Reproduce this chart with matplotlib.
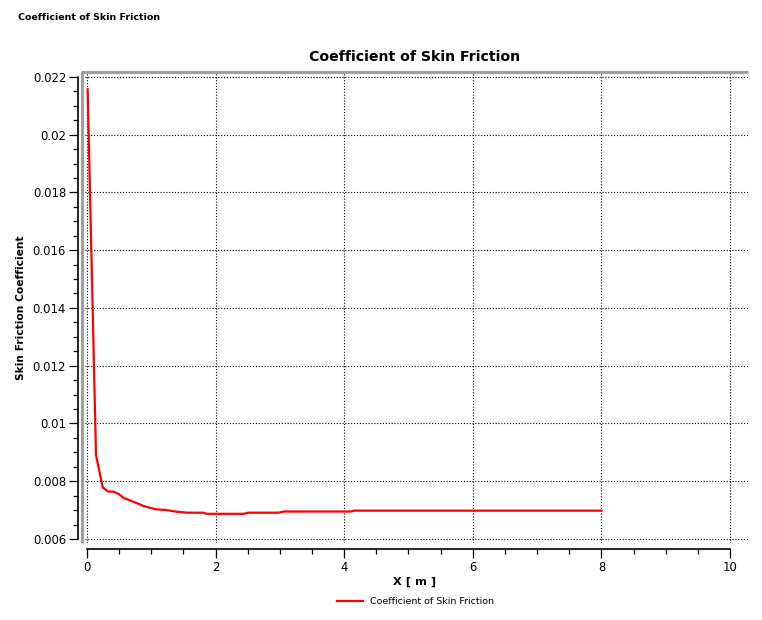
import numpy as np
import matplotlib
matplotlib.use("Agg")
import matplotlib.pyplot as plt
from matplotlib.ticker import MultipleLocator

# values
x_m = [0.01, 0.14, 0.245, 0.33, 0.41, 0.49, 0.57, 0.70, 0.88, 0.98, 1.06,
       1.24, 1.37, 1.55, 1.81, 1.86, 2.44, 2.51, 2.98, 3.06, 4.10, 4.16,
       5.0, 6.0, 7.0, 8.0]
cf = [0.02157, 0.00891, 0.00778, 0.00764, 0.00764, 0.00756, 0.00742,
      0.00731, 0.00714, 0.00708, 0.00703, 0.00700, 0.00695, 0.00691,
      0.00691, 0.00687, 0.00687, 0.00691, 0.00691, 0.00695, 0.00695,
      0.00698, 0.00698, 0.00698, 0.00698, 0.00698]

title = "Coefficient of Skin Friction"
x_label = "X [ m ]"
y_label = "Skin Friction Coefficient"
x_ticks = [0, 2, 4, 6, 8, 10]
y_ticks = [0.006, 0.008, 0.01, 0.012, 0.014, 0.016, 0.018, 0.02, 0.022]
y_tick_labels = ["0.006", "0.008", "0.01", "0.012", "0.014", "0.016",
                 "0.018", "0.02", "0.022"]

plt.rcParams['font.family'] = ['DejaVu Sans']

fig = plt.figure(figsize=(7.62, 6.2), dpi=100)
ax = fig.add_axes([0.1076, 0.1242, 0.874, 0.7597])
ax.set_xlim(-0.078, 10.28)
ax.set_ylim(0.00586, 0.02217)

ax.plot(x_m, cf, color="red", lw=1.6, label=title, solid_joinstyle="round")

# dotted grid
for gx in x_ticks:
    ax.axvline(gx, color="black", lw=0.8, ls=(0, (1, 1.6)), zorder=0)
for gy in y_ticks:
    ax.axhline(gy, color="black", lw=0.8, ls=(0, (1, 1.6)), zorder=0)

# gray frame on left and top
ax.plot([0, 0, 1], [0, 1, 1], transform=ax.transAxes, color="#a0a0a0",
        lw=2.2, clip_on=False, solid_capstyle="butt")

ax.spines['right'].set_visible(False)
ax.spines['top'].set_visible(False)
ax.spines['left'].set_position(('outward', 3))
ax.spines['left'].set_bounds(0.006, 0.022)
ax.spines['bottom'].set_position(('outward', 4.5))
ax.spines['bottom'].set_bounds(0, 10)
for s in ['left', 'bottom']:
    ax.spines[s].set_linewidth(1.2)
    ax.spines[s].set_color("black")

ax.set_xticks(x_ticks)
ax.set_yticks(y_ticks)
ax.set_yticklabels(y_tick_labels)
ax.xaxis.set_minor_locator(MultipleLocator(0.5))
ax.yaxis.set_minor_locator(MultipleLocator(0.0005))
ax.tick_params(which="major", length=6.5, width=0.9, labelsize=8.4, pad=2)
ax.tick_params(which="minor", length=3.8, width=0.9)

ax.set_title(title, fontsize=10.2, fontweight="bold", pad=8)
ax.set_xlabel(x_label, fontsize=8.2, fontweight="bold", labelpad=2)
ax.set_ylabel(y_label, fontsize=7.7, fontweight="bold", labelpad=5)

fig.text(0.023, 0.971, title, fontsize=6.8, fontweight="bold", va="center")

fig.legend(loc="center", bbox_to_anchor=(0.545, 0.03), frameon=False,
           fontsize=6.8, handlelength=2.8, handletextpad=0.7)

fig.savefig("out.png", dpi=100)
